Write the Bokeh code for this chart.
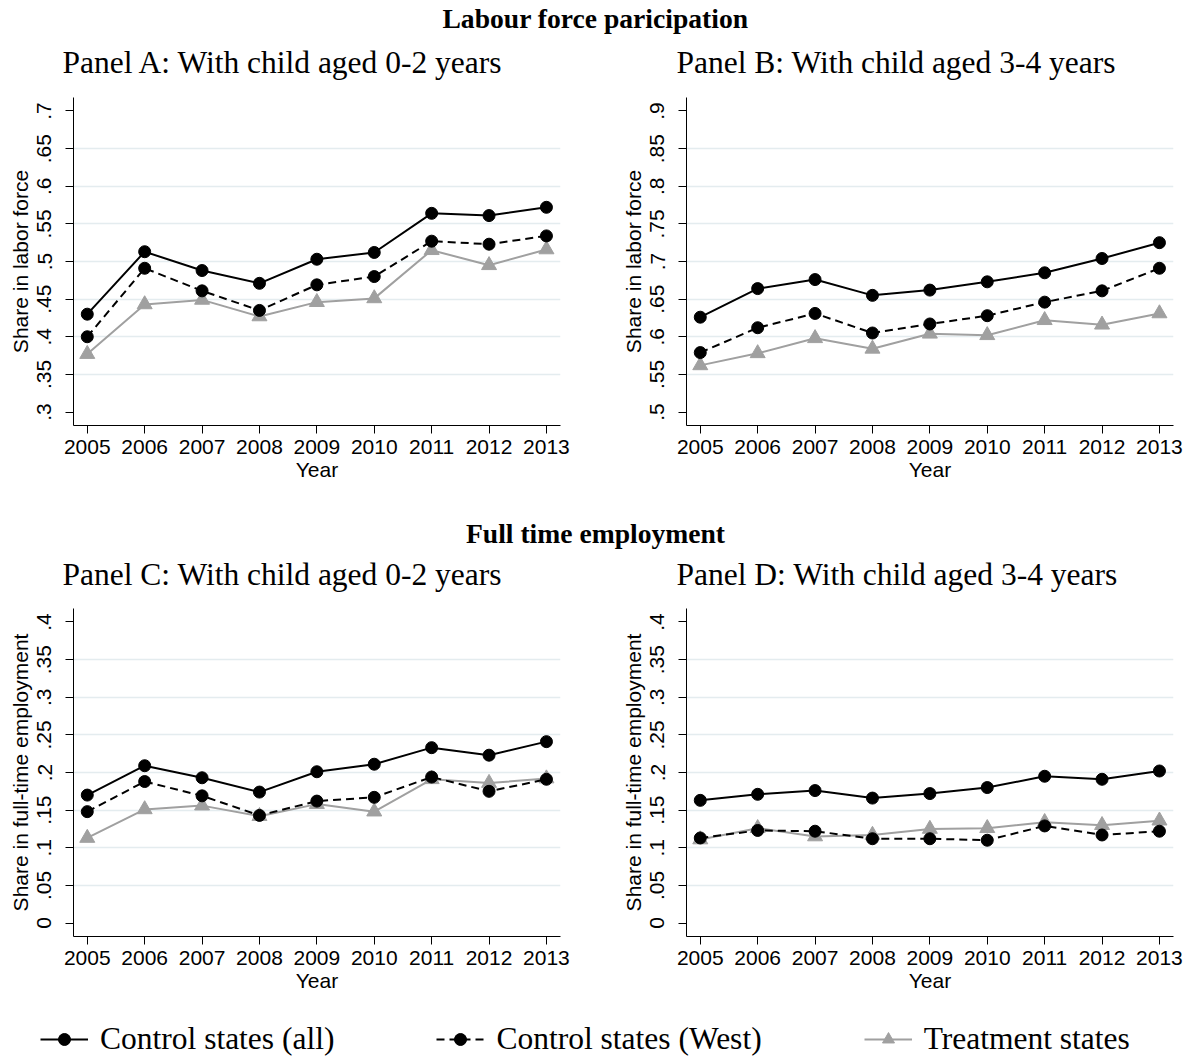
import math
from bokeh.plotting import figure
from bokeh.layouts import column, row
from bokeh.models import Range1d, FixedTicker, Legend, LegendItem
from bokeh.embed import file_html
from bokeh.resources import INLINE

years = [2005, 2006, 2007, 2008, 2009, 2010, 2011, 2012, 2013]

# Panel A: labour force participation, child aged 0-2
a_all = [0.430, 0.513, 0.488, 0.471, 0.503, 0.512, 0.564, 0.561, 0.572]
a_west = [0.400, 0.491, 0.461, 0.435, 0.469, 0.480, 0.527, 0.523, 0.534]
a_treat = [0.377, 0.443, 0.449, 0.427, 0.446, 0.451, 0.515, 0.495, 0.516]

# Panel B: labour force participation, child aged 3-4
b_all = [0.626, 0.664, 0.676, 0.655, 0.662, 0.673, 0.685, 0.704, 0.725]
b_west = [0.579, 0.612, 0.631, 0.605, 0.617, 0.628, 0.646, 0.661, 0.691]
b_treat = [0.562, 0.578, 0.598, 0.584, 0.604, 0.602, 0.622, 0.616, 0.631]

# Panel C: full-time employment, child aged 0-2
c_all = [0.170, 0.209, 0.193, 0.174, 0.201, 0.211, 0.233, 0.223, 0.241]
c_west = [0.148, 0.188, 0.169, 0.143, 0.162, 0.167, 0.194, 0.175, 0.191]
c_treat = [0.113, 0.151, 0.156, 0.142, 0.158, 0.148, 0.191, 0.186, 0.192]

# Panel D: full-time employment, child aged 3-4
d_all = [0.163, 0.171, 0.176, 0.166, 0.172, 0.180, 0.195, 0.191, 0.202]
d_west = [0.113, 0.123, 0.122, 0.112, 0.112, 0.110, 0.129, 0.117, 0.122]
d_treat = [0.111, 0.126, 0.115, 0.117, 0.125, 0.126, 0.134, 0.130, 0.136]

lfp_ticks_a = [0.3, 0.35, 0.4, 0.45, 0.5, 0.55, 0.6, 0.65, 0.7]
lfp_labels_a = [".3", ".35", ".4", ".45", ".5", ".55", ".6", ".65", ".7"]
lfp_ticks_b = [0.5, 0.55, 0.6, 0.65, 0.7, 0.75, 0.8, 0.85, 0.9]
lfp_labels_b = [".5", ".55", ".6", ".65", ".7", ".75", ".8", ".85", ".9"]
ft_ticks = [0.0, 0.05, 0.1, 0.15, 0.2, 0.25, 0.3, 0.35, 0.4]
ft_labels = ["0", ".05", ".1", ".15", ".2", ".25", ".3", ".35", ".4"]

section_titles = ["Labour force paricipation", "Full time employment"]
panel_titles = ["Panel A: With child aged 0-2 years", "Panel B: With child aged 3-4 years",
                "Panel C: With child aged 0-2 years", "Panel D: With child aged 3-4 years"]
legend_labels = ["Control states (all)", "Control states (West)", "Treatment states"]

SANS = "Liberation Sans"
SERIF = "Liberation Serif"
GRAY = "#a0a0a0"
GRID = "#e4ecef"
BLACK = "black"
DASH = "8 5"
FRAME_H = 328
WA = 613
WB = 577


def text_fig(text, width, height, size, bold, align, offset):
    h = figure(width=width, height=height, x_range=Range1d(0, 1), y_range=Range1d(0, 1),
               output_backend="svg", toolbar_location=None, min_border=0,
               x_axis_location=None, y_axis_location=None)
    h.outline_line_color = None
    h.xgrid.visible = False
    h.ygrid.visible = False
    h.title.text = text
    h.title.align = align
    h.title.offset = offset
    h.title.text_font = SERIF
    h.title.text_font_size = size
    h.title.text_font_style = "bold" if bold else "normal"
    h.title.text_color = BLACK
    h.title.standoff = 0
    return h


def panel(all_v, west_v, treat_v, yticks, ylabels, ylabel, width, height, right, top, bottom):
    step = yticks[1] - yticks[0]
    pad = 0.0179 * (step / 0.05)
    p = figure(width=width, height=height,
               x_range=Range1d(2004.76, 2013.245),
               y_range=Range1d(yticks[0] - pad, yticks[-1] + pad),
               output_backend="svg", toolbar_location=None,
               min_border_left=73, min_border_right=right,
               min_border_top=top, min_border_bottom=bottom)
    p.outline_line_color = None
    p.background_fill_color = "white"
    p.border_fill_color = "white"

    p.xgrid.visible = False
    p.ygrid.ticker = FixedTicker(ticks=yticks[1:-1])
    p.ygrid.grid_line_color = GRID
    p.ygrid.grid_line_width = 1.5

    p.xaxis.ticker = FixedTicker(ticks=years, minor_ticks=[])
    p.yaxis.ticker = FixedTicker(ticks=yticks, minor_ticks=[])
    p.yaxis.major_label_overrides = {t: l for t, l in zip(yticks, ylabels)}
    p.yaxis.major_label_orientation = "vertical"

    for ax in (p.xaxis[0], p.yaxis[0]):
        ax.axis_line_color = BLACK
        ax.axis_line_width = 1
        ax.major_tick_line_color = BLACK
        ax.major_tick_line_width = 1
        ax.major_tick_out = 8
        ax.major_tick_in = 0
        ax.minor_tick_out = 0
        ax.minor_tick_in = 0
        ax.major_label_text_font = SANS
        ax.major_label_text_font_size = "21px"
        ax.major_label_text_color = BLACK
        ax.axis_label_text_font = SANS
        ax.axis_label_text_font_size = "21px"
        ax.axis_label_text_font_style = "normal"
        ax.axis_label_text_color = BLACK

    p.xaxis.axis_label = "Year"
    p.xaxis.major_label_standoff = 6
    p.xaxis.axis_label_standoff = 1
    p.yaxis.axis_label = ylabel
    p.yaxis.major_label_standoff = 14
    p.yaxis.axis_label_standoff = 3

    p.line(years, treat_v, line_color=GRAY, line_width=2)
    p.scatter(years, treat_v, marker="triangle", size=15, fill_color=GRAY, line_color=GRAY)
    p.line(years, west_v, line_color=BLACK, line_width=2, line_dash=DASH)
    p.scatter(years, west_v, marker="circle", size=12, fill_color=BLACK, line_color=BLACK)
    p.line(years, all_v, line_color=BLACK, line_width=2)
    p.scatter(years, all_v, marker="circle", size=12, fill_color=BLACK, line_color=BLACK)
    return p


# vertical layout (page px): header 0-42, panel titles 42-82, row 1 82-515,
# header 515-554, panel titles 554-594, row 2 594-1000, legend 1000-1059
h1 = text_fig(section_titles[0], WA + WB, 42, "27.6px", True, "center", 0)
tA = text_fig(panel_titles[0], WA, 40, "31.5px", False, "left", 62)
tB = text_fig(panel_titles[1], WB, 40, "31.5px", False, "left", 63)
pa = panel(a_all, a_west, a_treat, lfp_ticks_a, lfp_labels_a, "Share in labor force",
           WA, 433, WA - 73 - 487, 15, 433 - 15 - FRAME_H)
pb = panel(b_all, b_west, b_treat, lfp_ticks_b, lfp_labels_b, "Share in labor force",
           WB, 433, WB - 73 - 487, 15, 433 - 15 - FRAME_H)
h2 = text_fig(section_titles[1], WA + WB, 39, "27.6px", True, "center", 0)
tC = text_fig(panel_titles[2], WA, 40, "31.5px", False, "left", 62)
tD = text_fig(panel_titles[3], WB, 40, "31.5px", False, "left", 63)
pc = panel(c_all, c_west, c_treat, ft_ticks, ft_labels, "Share in full-time employment",
           WA, 406, WA - 73 - 487, 14, 406 - 14 - FRAME_H)
pd_ = panel(d_all, d_west, d_treat, ft_ticks, ft_labels, "Share in full-time employment",
            WB, 406, WB - 73 - 487, 14, 406 - 14 - FRAME_H)

# Legend figure: series renderers lie outside its view, so only the key is visible
lf = figure(width=WA + WB, height=59, x_range=Range1d(0, 1), y_range=Range1d(0, 1),
            output_backend="svg", toolbar_location=None, min_border=0,
            x_axis_location=None, y_axis_location=None)
lf.outline_line_color = None
lf.xgrid.visible = False
lf.ygrid.visible = False
r1l = lf.line(years, a_all, line_color=BLACK, line_width=2)
r1m = lf.scatter(years, a_all, marker="circle", size=12, fill_color=BLACK, line_color=BLACK)
r2l = lf.line(years, a_west, line_color=BLACK, line_width=2, line_dash=DASH)
r2m = lf.scatter(years, a_west, marker="circle", size=12, fill_color=BLACK, line_color=BLACK)
r3l = lf.line(years, a_treat, line_color=GRAY, line_width=2)
r3m = lf.scatter(years, a_treat, marker="triangle", size=15, fill_color=GRAY, line_color=GRAY)
legend = Legend(items=[LegendItem(label=legend_labels[0], renderers=[r1l, r1m]),
                       LegendItem(label=legend_labels[1], renderers=[r2l, r2m]),
                       LegendItem(label=legend_labels[2], renderers=[r3l, r3m])],
                orientation="horizontal", location=(40, 2),
                glyph_width=48, glyph_height=30, label_standoff=12, spacing=102,
                padding=0, margin=0, border_line_color=None, background_fill_alpha=0,
                label_text_font=SERIF, label_text_font_size="31.5px", label_text_color=BLACK)
lf.add_layout(legend)

layout = column(h1, row(tA, tB), row(pa, pb), h2, row(tC, tD), row(pc, pd_), lf)

open("out.html", "w").write(file_html(layout, INLINE))
